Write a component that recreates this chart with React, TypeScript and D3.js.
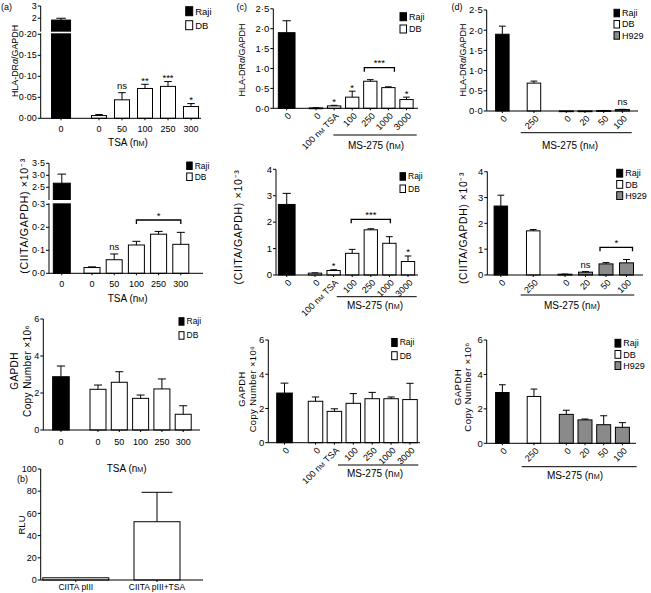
import React from "react";
import * as d3 from "d3";

const FONT = "'Liberation Sans', Arial, Helvetica, sans-serif";

// ---------------- data ----------------
const groupColors: Record<string, string> = { Raji: "#000000", DB: "#ffffff", H929: "#8a8a8a" };

// (a) TSA series
const aLabels = ["0", "0", "50", "100", "250", "300"];
const aGroups = ["Raji", "DB", "DB", "DB", "DB", "DB"];
const aHlaVals = [1.85, 0.0065, 0.044, 0.071, 0.076, 0.028];
const aHlaErrs = [0.15, 0.0025, 0.017, 0.01, 0.0115, 0.007];
const aHlaSig = ["", "", "ns", "**", "***", "*"];
const aCiitaVals = [2.67, 0.025, 0.059, 0.123, 0.17, 0.126];
const aCiitaErrs = [0.38, 0.003, 0.025, 0.016, 0.012, 0.052];
const aCiitaSig = ["", "", "ns", "", "", ""];
const aGapdhVals = [2.88, 2.2, 2.58, 1.71, 2.22, 0.85];
const aGapdhErrs = [0.58, 0.23, 0.57, 0.18, 0.54, 0.46];

// (b) luciferase
const bLabels = ["CIITA pIII", "CIITA pIII+TSA"];
const bGroups = ["DB", "DB"];
const bVals = [2, 52.5];
const bErrs = [0, 26.5];

// (c) MS-275 in DB
const cLabels = ["0", "0", "100 nM TSA", "100", "250", "1000", "3000"];
const cGroups = ["Raji", "DB", "DB", "DB", "DB", "DB", "DB"];
const cHlaVals = [1.9, 0.01, 0.06, 0.28, 0.68, 0.52, 0.22];
const cHlaErrs = [0.3, 0.004, 0.015, 0.15, 0.04, 0.02, 0.06];
const cHlaSig = ["", "", "*", "*", "", "", "*"];
const cCiitaVals = [2.67, 0.07, 0.17, 0.82, 1.71, 1.2, 0.51];
const cCiitaErrs = [0.42, 0.01, 0.03, 0.15, 0.04, 0.25, 0.21];
const cCiitaSig = ["", "", "*", "", "", "", "*"];
const cGapdhVals = [2.9, 2.42, 1.83, 2.3, 2.57, 2.57, 2.52];
const cGapdhErrs = [0.58, 0.25, 0.15, 0.57, 0.37, 0.1, 0.95];

// (d) MS-275 in H929
const dLabels = ["0", "250", "0", "20", "50", "100"];
const dGroups = ["Raji", "DB", "H929", "H929", "H929", "H929"];
const dHlaVals = [1.9, 0.69, 0.003, 0.003, 0.01, 0.035];
const dHlaErrs = [0.2, 0.05, 0, 0, 0.003, 0.006];
const dHlaSig = ["", "", "", "", "", "ns"];
const dCiitaVals = [2.67, 1.71, 0.03, 0.11, 0.43, 0.47];
const dCiitaErrs = [0.42, 0.05, 0.005, 0.02, 0.05, 0.13];
const dCiitaSig = ["", "", "", "ns", "", ""];
const dGapdhVals = [2.95, 2.72, 1.68, 1.36, 1.08, 0.93];
const dGapdhErrs = [0.45, 0.43, 0.24, 0.05, 0.52, 0.27];

const legend2 = ["Raji", "DB"];
const legend3 = ["Raji", "DB", "H929"];

const f0 = (v: number) => String(v);
const f1 = (v: number) => v.toFixed(1).replace(".", "·");
const f2 = (v: number) => v.toFixed(2).replace(".", "·");

// text helper: renders "nM" as n + small M
function rich(s: string, key?: string) {
  const parts = s.split("nM");
  const out: any[] = [];
  parts.forEach((p, i) => {
    out.push(<tspan key={`${key}-p${i}`}>{p}</tspan>);
    if (i < parts.length - 1) {
      out.push(<tspan key={`${key}-n${i}`}>n</tspan>);
      out.push(
        <tspan key={`${key}-m${i}`} fontSize="0.72em">
          M
        </tspan>
      );
    }
  });
  return out;
}

function yText(s: string) {
  const parts = s.split("α");
  const out: any[] = [];
  parts.forEach((p, i) => {
    out.push(<tspan key={`t${i}`}>{p}</tspan>);
    if (i < parts.length - 1)
      out.push(
        <tspan key={`a${i}`} fontStyle="italic">
          α
        </tspan>
      );
  });
  return out;
}

type Seg = { domain: [number, number]; range: [number, number]; ticks: number[]; fmt: (v: number) => string };

type PanelProps = {
  labels: string[];
  groups: string[];
  vals: number[];
  errs: number[];
  sig?: string[];
  brackets?: { from: number; to: number; y: number; text: string; ext?: number }[];
  axisX: number;
  xEnd: number;
  baseline: number;
  segs: Seg[];
  slots: number[];
  slotRange: [number, number];
  widths: number[];
  capFrac?: number;
  rotate: boolean;
  labelY: number;
  fs: number;
  tickFs: number;
  titleFs?: number;
  legend?: { x: number; y: number; dy: number; w: number; h: number; fs: number; items: string[] };
  title?: { text: string; x: number; y: number; line?: [number, number, number] };
  ylabel: { lines: string[]; xs: number[]; cy: number; fs: number; ls?: number };
  tag?: { text: string; x: number; y: number };
};

function Panel(p: PanelProps) {
  const x = d3.scaleLinear().domain([0, 1]).range(p.slotRange);
  const scales = p.segs.map((s) => d3.scaleLinear().domain(s.domain).range(s.range));
  const segIdx = (v: number) => {
    let k = 0;
    p.segs.forEach((s, i) => {
      if (i > 0 && v >= s.domain[0]) k = i;
    });
    return k;
  };
  const y = (v: number) => scales[segIdx(v)](v);
  const cap = p.capFrac ?? 0.5;
  const centers = p.slots.map((s) => x(s));
  const titleFs = p.titleFs ?? 10;

  return (
    <g fontFamily={FONT}>
      {/* bars */}
      {p.vals.map((v, i) => {
        const cx = centers[i];
        const w = p.widths[i];
        const yv = y(v);
        return (
          <rect
            key={`b${i}`}
            x={cx - w / 2}
            y={yv}
            width={w}
            height={Math.max(p.baseline - yv, 0.8)}
            fill={groupColors[p.groups[i]]}
            stroke="#000"
            strokeWidth={1}
          />
        );
      })}
      {/* error bars */}
      {p.vals.map((v, i) => {
        const e = p.errs[i];
        if (!e) return null;
        const cx = centers[i];
        const w = p.widths[i] * cap;
        const y0 = y(v);
        const y1 = y(v + e);
        return (
          <g key={`e${i}`} stroke="#000" strokeWidth={1}>
            <line x1={cx} x2={cx} y1={y0} y2={y1} />
            <line x1={cx - w / 2} x2={cx + w / 2} y1={y1} y2={y1} />
          </g>
        );
      })}
      {/* break gaps */}
      {p.segs.length > 1 &&
        p.vals.map((v, i) => {
          if (segIdx(v) === 0) return null;
          const cx = centers[i];
          const w = p.widths[i];
          const top = p.segs[1].range[0];
          const bot = p.segs[0].range[1];
          return <rect key={`g${i}`} x={cx - w / 2 - 1} y={top} width={w + 2} height={bot - top} fill="#fff" />;
        })}
      {/* y axis */}
      {p.segs.map((s, si) => (
        <g key={`s${si}`}>
          <line x1={p.axisX} x2={p.axisX} y1={s.range[0]} y2={s.range[1]} stroke="#000" strokeWidth={1} />
          {s.ticks.map((t) => {
            const ty = scales[si](t);
            return (
              <g key={`t${t}`}>
                <line x1={p.axisX - 3} x2={p.axisX} y1={ty} y2={ty} stroke="#000" strokeWidth={1} />
                <text x={p.axisX - 4} y={ty} dy="0.35em" textAnchor="end" fontSize={p.tickFs}>
                  {s.fmt(t)}
                </text>
              </g>
            );
          })}
        </g>
      ))}
      {/* x axis */}
      <line x1={p.axisX} x2={p.xEnd} y1={p.baseline} y2={p.baseline} stroke="#000" strokeWidth={1} />
      {centers.map((cx, i) => (
        <line key={`xt${i}`} x1={cx} x2={cx} y1={p.baseline} y2={p.baseline + 2} stroke="#000" strokeWidth={1} />
      ))}
      {p.labels.map((l, i) =>
        p.rotate ? (
          <text
            key={`xl${i}`}
            transform={`translate(${centers[i] + 3},${p.baseline + 6}) rotate(-45)`}
            textAnchor="end"
            dy="0.35em"
            fontSize={p.fs}
          >
            {rich(l, `xl${i}`)}
          </text>
        ) : (
          <text key={`xl${i}`} x={centers[i]} y={p.labelY} textAnchor="middle" fontSize={p.fs}>
            {rich(l, `xl${i}`)}
          </text>
        )
      )}
      {/* significance */}
      {p.sig &&
        p.sig.map((s, i) => {
          if (!s) return null;
          const top = y(p.vals[i] + p.errs[i]);
          const by = s.startsWith("*") ? top - 0.5 : top - 4;
          return (
            <text key={`sg${i}`} x={centers[i]} y={by} textAnchor="middle" fontSize={9.5}>
              {s}
            </text>
          );
        })}
      {p.brackets &&
        p.brackets.map((b, i) => {
          const ext = b.ext ?? 0;
          const x1 = centers[b.from] - ext;
          const x2 = centers[b.to] + ext;
          return (
            <g key={`br${i}`}>
              <path
                d={`M${x1},${b.y + 4}V${b.y}H${x2}V${b.y + 4}`}
                fill="none"
                stroke="#000"
                strokeWidth={1.3}
              />
              <text x={(x1 + x2) / 2} y={b.y - 1.5} textAnchor="middle" fontSize={9.5}>
                {b.text}
              </text>
            </g>
          );
        })}
      {/* title */}
      {p.title && (
        <g>
          {p.title.line && (
            <line
              x1={p.title.line[0]}
              x2={p.title.line[1]}
              y1={p.title.line[2]}
              y2={p.title.line[2]}
              stroke="#000"
              strokeWidth={1}
            />
          )}
          <text x={p.title.x} y={p.title.y} textAnchor="middle" fontSize={titleFs}>
            {rich(p.title.text, "title")}
          </text>
        </g>
      )}
      {/* y label */}
      {p.ylabel.lines.map((l, i) => (
        <text
          key={`yl${i}`}
          transform={`translate(${p.ylabel.xs[i]},${p.ylabel.cy}) rotate(-90)`}
          textAnchor="middle"
          dy="0.35em"
          fontSize={p.ylabel.fs}
          letterSpacing={p.ylabel.ls ?? 0}
        >
          {yText(l)}
        </text>
      ))}
      {/* legend */}
      {p.legend &&
        p.legend.items.map((it, i) => {
          const L = p.legend!;
          const yy = L.y + i * L.dy;
          return (
            <g key={`lg${i}`}>
              <rect x={L.x} y={yy} width={L.w} height={L.h} fill={groupColors[it]} stroke="#000" strokeWidth={1} />
              <text x={L.x + L.w + 2.5} y={yy + L.h / 2} dy="0.35em" fontSize={L.fs}>
                {it}
              </text>
            </g>
          );
        })}
      {p.tag && (
        <text x={p.tag.x} y={p.tag.y} fontSize={9}>
          {p.tag.text}
        </text>
      )}
    </g>
  );
}

const hlaLabel = "HLA-DRα/GAPDH";
const ciitaLabel = "(CIITA/GAPDH) ×10⁻³";
const gapdhLines = ["GAPDH", "Copy Number ×10⁶"];

export default function App() {
  const aW = (r: number, d: number) => aGroups.map((g) => (g === "Raji" ? r : d));
  const cW = (r: number, d: number) => cGroups.map((g) => (g === "Raji" ? r : d));
  return (
    <svg
      width={651}
      height={593}
      viewBox="0 0 651 593"
      style={{ position: "absolute", left: 0, top: 0, background: "#fff" }}
    >
      <rect width={651} height={593} fill="#fff" />
      {/* (a) top */}
      <Panel
        labels={aLabels}
        groups={aGroups}
        vals={aHlaVals}
        errs={aHlaErrs}
        sig={aHlaSig}
        axisX={40.7}
        xEnd={201}
        baseline={118.3}
        segs={[
          { domain: [0, 0.2024], range: [118.3, 33.3], ticks: [0, 0.05, 0.1, 0.15, 0.2], fmt: f2 },
          { domain: [0.9, 3], range: [31.7, 6], ticks: [2, 3], fmt: f0 },
        ]}
        slots={[-1.65, 0, 1, 2, 3, 4]}
        slotRange={[99, 122]}
        widths={aW(19, 15)}
        rotate={false}
        labelY={131.5}
        fs={9}
        tickFs={9}
        legend={{ x: 185.7, y: 6.7, dy: 14, w: 7, h: 9, fs: 9.5, items: legend2 }}
        title={{ text: "TSA (nM)", x: 128, y: 145.5 }}
        ylabel={{ lines: [hlaLabel], xs: [14.5], cy: 61, fs: 8.9 }}
        tag={{ text: "(a)", x: 1, y: 9.5 }}
      />
      {/* (a) middle */}
      <Panel
        labels={aLabels}
        groups={aGroups}
        vals={aCiitaVals}
        errs={aCiitaErrs}
        sig={aCiitaSig}
        brackets={[{ from: 3, to: 5, y: 220, text: "*" }]}
        axisX={49}
        xEnd={203}
        baseline={273.3}
        segs={[
          { domain: [0, 0.3043], range: [273.3, 203.3], ticks: [0, 0.1, 0.2, 0.3], fmt: f1 },
          { domain: [1.97, 3.5], range: [200, 163.3], ticks: [2.5, 3, 3.5], fmt: f1 },
        ]}
        slots={[-1.36, 0, 1, 2, 3, 4]}
        slotRange={[92, 114.2]}
        widths={aW(17, 16)}
        rotate={false}
        labelY={286.5}
        fs={9}
        tickFs={9}
        legend={{ x: 186.7, y: 162, dy: 11, w: 5.5, h: 7.5, fs: 8.5, items: legend2 }}
        title={{ text: "TSA (nM)", x: 127.7, y: 301.5 }}
        ylabel={{ lines: [ciitaLabel], xs: [24.5], cy: 216, fs: 10.6, ls: 0.7 }}
      />
      {/* (a) bottom */}
      <Panel
        labels={aLabels}
        groups={aGroups}
        vals={aGapdhVals}
        errs={aGapdhErrs}
        axisX={43.3}
        xEnd={200}
        baseline={430}
        segs={[{ domain: [0, 6], range: [430, 319], ticks: [0, 2, 4, 6], fmt: f0 }]}
        slots={[-1.74, 0, 1, 2, 3, 4]}
        slotRange={[98, 119.3]}
        widths={aW(16.6, 16)}
        rotate={false}
        labelY={444.5}
        fs={9}
        tickFs={9}
        legend={{ x: 179, y: 317.7, dy: 14, w: 5, h: 7.5, fs: 8.5, items: legend2 }}
        title={{ text: "TSA (nM)", x: 126.7, y: 471.5 }}
        ylabel={{ lines: gapdhLines, xs: [14, 27.3], cy: 371, fs: 10, ls: 0.4 }}
      />
      {/* (b) */}
      <Panel
        labels={bLabels}
        groups={bGroups}
        vals={bVals}
        errs={bErrs}
        axisX={40.7}
        xEnd={203}
        baseline={580}
        segs={[{ domain: [0, 100], range: [580, 469], ticks: [0, 20, 40, 60, 80, 100], fmt: f0 }]}
        slots={[0, 1]}
        slotRange={[75.8, 157]}
        widths={[66, 46]}
        capFrac={0.67}
        rotate={false}
        labelY={590}
        fs={8.5}
        tickFs={9}
        ylabel={{ lines: ["RLU"], xs: [21.7], cy: 525, fs: 9.5 }}
        tag={{ text: "(b)", x: 17, y: 481.5 }}
      />
      {/* (c) top */}
      <Panel
        labels={cLabels}
        groups={cGroups}
        vals={cHlaVals}
        errs={cHlaErrs}
        sig={cHlaSig}
        brackets={[{ from: 4, to: 5, y: 67.7, text: "***", ext: 6 }]}
        axisX={273.3}
        xEnd={418}
        baseline={108.3}
        segs={[{ domain: [0, 2.5], range: [108.3, 8.8], ticks: [0, 0.5, 1, 1.5, 2, 2.5], fmt: f1 }]}
        slots={[-1.62, 0, 1, 2, 3, 4, 5]}
        slotRange={[316, 334.1]}
        widths={cW(16.7, 13.3)}
        rotate={true}
        labelY={0}
        fs={9}
        tickFs={9.5}
        legend={{ x: 400, y: 12.7, dy: 12.3, w: 6.5, h: 8, fs: 9, items: legend2 }}
        title={{ text: "MS-275 (nM)", x: 376, y: 148.5, line: [333.3, 416.7, 135] }}
        ylabel={{ lines: [hlaLabel], xs: [242.3], cy: 60, fs: 9 }}
        tag={{ text: "(c)", x: 236.5, y: 9.5 }}
      />
      {/* (c) middle */}
      <Panel
        labels={cLabels}
        groups={cGroups}
        vals={cCiitaVals}
        errs={cCiitaErrs}
        sig={cCiitaSig}
        brackets={[{ from: 3, to: 5, y: 219.3, text: "***", ext: 1 }]}
        axisX={276}
        xEnd={418}
        baseline={275}
        segs={[{ domain: [0, 4], range: [275, 169.3], ticks: [0, 1, 2, 3, 4], fmt: f0 }]}
        slots={[-1.52, 0, 1, 2, 3, 4, 5]}
        slotRange={[315, 333.6]}
        widths={cW(16.7, 13.3)}
        rotate={true}
        labelY={0}
        fs={9}
        tickFs={9.5}
        legend={{ x: 400, y: 172.7, dy: 12.3, w: 5.5, h: 7.5, fs: 8.5, items: legend2 }}
        title={{ text: "MS-275 (nM)", x: 375, y: 309, line: [336.7, 416.7, 296.7] }}
        ylabel={{ lines: [ciitaLabel], xs: [238.3], cy: 227, fs: 10.5, ls: 0.7 }}
      />
      {/* (c) bottom */}
      <Panel
        labels={cLabels}
        groups={cGroups}
        vals={cGapdhVals}
        errs={cGapdhErrs}
        axisX={268.3}
        xEnd={420}
        baseline={442.7}
        segs={[{ domain: [0, 6], range: [442.7, 340], ticks: [0, 2, 4, 6], fmt: f0 }]}
        slots={[-1.64, 0, 1, 2, 3, 4, 5]}
        slotRange={[315.5, 334.4]}
        widths={cW(15.6, 14.5)}
        rotate={true}
        labelY={0}
        fs={9}
        tickFs={9.5}
        legend={{ x: 391.7, y: 338.5, dy: 13.2, w: 5.5, h: 8, fs: 8.5, items: legend2 }}
        title={{ text: "MS-275 (nM)", x: 375, y: 476.5, line: [338, 418.3, 465] }}
        ylabel={{ lines: gapdhLines, xs: [241.7, 252.3], cy: 389, fs: 9.4, ls: 0.4 }}
      />
      {/* (d) top */}
      <Panel
        labels={dLabels}
        groups={dGroups}
        vals={dHlaVals}
        errs={dHlaErrs}
        sig={dHlaSig}
        axisX={486.7}
        xEnd={638}
        baseline={111}
        segs={[{ domain: [0, 2.5], range: [111, 10], ticks: [0, 0.5, 1, 1.5, 2, 2.5], fmt: f1 }]}
        slots={[-3.42, -1.73, 0, 1, 2, 3]}
        slotRange={[566.3, 585]}
        widths={[13.5, 13.5, 14, 14, 14, 14]}
        rotate={true}
        labelY={0}
        fs={9}
        tickFs={9.5}
        legend={{ x: 614, y: 9.3, dy: 11.2, w: 5.5, h: 7.5, fs: 9, items: legend3 }}
        title={{ text: "MS-275 (nM)", x: 570, y: 148.5, line: [520.7, 631.7, 132.7] }}
        ylabel={{ lines: [hlaLabel], xs: [463.3], cy: 60, fs: 9 }}
        tag={{ text: "(d)", x: 451.5, y: 9.5 }}
      />
      {/* (d) middle */}
      <Panel
        labels={dLabels}
        groups={dGroups}
        vals={dCiitaVals}
        errs={dCiitaErrs}
        sig={dCiitaSig}
        brackets={[{ from: 4, to: 5, y: 247.3, text: "*", ext: 6 }]}
        axisX={487.3}
        xEnd={643}
        baseline={275}
        segs={[{ domain: [0, 4], range: [275, 171.7], ticks: [0, 1, 2, 3, 4], fmt: f0 }]}
        slots={[-3.13, -1.55, 0, 1, 2, 3]}
        slotRange={[565, 585.5]}
        widths={[13.5, 13.5, 14, 14, 14, 14]}
        rotate={true}
        labelY={0}
        fs={9}
        tickFs={9.5}
        legend={{ x: 616.7, y: 169.3, dy: 11.2, w: 6, h: 7.8, fs: 9, items: legend3 }}
        title={{ text: "MS-275 (nM)", x: 572, y: 309, line: [520.7, 634.3, 295] }}
        ylabel={{ lines: [ciitaLabel], xs: [463.3], cy: 228, fs: 10.4, ls: 0.6 }}
      />
      {/* (d) bottom */}
      <Panel
        labels={dLabels}
        groups={dGroups}
        vals={dGapdhVals}
        errs={dGapdhErrs}
        axisX={486.7}
        xEnd={636}
        baseline={443.3}
        segs={[{ domain: [0, 6], range: [443.3, 340], ticks: [0, 2, 4, 6], fmt: f0 }]}
        slots={[-3.42, -1.73, 0, 1, 2, 3]}
        slotRange={[566.3, 585]}
        widths={[13.5, 13.5, 14, 14, 14, 14]}
        rotate={true}
        labelY={0}
        fs={9}
        tickFs={9.5}
        legend={{ x: 615, y: 339.3, dy: 11.2, w: 5.8, h: 7.8, fs: 9, items: legend3 }}
        title={{ text: "MS-275 (nM)", x: 575, y: 478.5, line: [521.7, 636.7, 466.7] }}
        ylabel={{ lines: gapdhLines, xs: [457.3, 467.3], cy: 387, fs: 9.7, ls: 0.4 }}
      />
    </svg>
  );
}
